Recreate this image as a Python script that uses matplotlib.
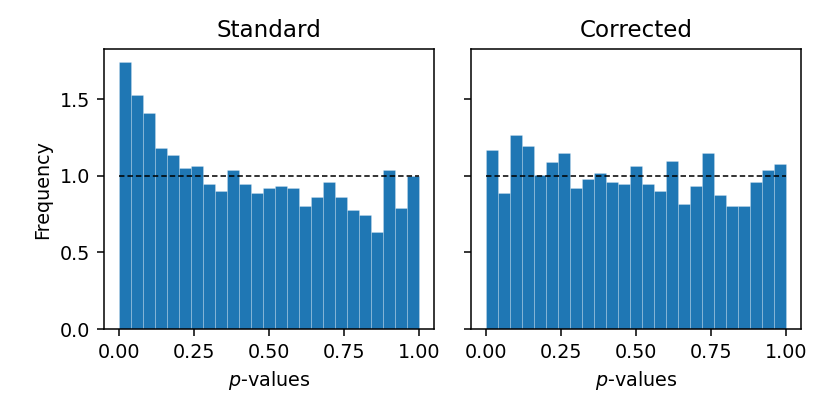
import matplotlib
matplotlib.use("Agg")
import matplotlib.pyplot as plt
import numpy as np

bin_edges = np.linspace(0, 1, 26)
standard = [1.741, 1.525, 1.412, 1.179, 1.137, 1.050, 1.065, 0.948, 0.904, 1.035,
            0.948, 0.889, 0.919, 0.935, 0.922, 0.804, 0.863, 0.961, 0.863, 0.776,
            0.747, 0.632, 1.035, 0.791, 0.996]
corrected = [1.166, 0.889, 1.264, 1.192, 1.004, 1.092, 1.148, 0.922, 0.978, 1.020,
             0.963, 0.948, 1.063, 0.948, 0.904, 1.094, 0.819, 0.935, 1.148, 0.876,
             0.804, 0.804, 0.963, 1.035, 1.078]
titles = ["Standard", "Corrected"]

s = 1.38
plt.rcParams["axes.linewidth"] = 0.8 * s
plt.rcParams["xtick.major.width"] = 0.8 * s
plt.rcParams["ytick.major.width"] = 0.8 * s
plt.rcParams["xtick.major.size"] = 3.5 * s
plt.rcParams["ytick.major.size"] = 3.5 * s
plt.rcParams["xtick.major.pad"] = 3.5 * s
plt.rcParams["ytick.major.pad"] = 3.5 * s

fig = plt.figure(figsize=(8.3, 4.15), dpi=100)
ax1 = fig.add_axes([0.125, 0.207, 0.398, 0.675])
ax2 = fig.add_axes([0.567, 0.207, 0.398, 0.675], sharey=ax1)

for ax, vals, title in zip([ax1, ax2], [standard, corrected], titles):
    ax.hist(bin_edges[:-1], bins=bin_edges, weights=vals, color="#1f77b4",
            edgecolor=(1, 1, 1, 0.25), linewidth=0.6)
    ax.plot([0, 1], [1, 1], color="k", alpha=0.8, linestyle=(0, (2.8, 1.55)),
            linewidth=1.4)
    ax.set_title(title, fontsize=12 * s, pad=6 * s)
    ax.set_xlabel(r"$p$-values", fontsize=10 * s, labelpad=4 * s)
    ax.set_xticks([0, 0.25, 0.5, 0.75, 1.0])
    ax.tick_params(labelsize=10 * s)

ax1.set_ylabel("Frequency", fontsize=10 * s, labelpad=4 * s)
ax1.set_yticks([0, 0.5, 1.0, 1.5])
plt.setp(ax2.get_yticklabels(), visible=False)

fig.savefig("out.png", dpi=100)
